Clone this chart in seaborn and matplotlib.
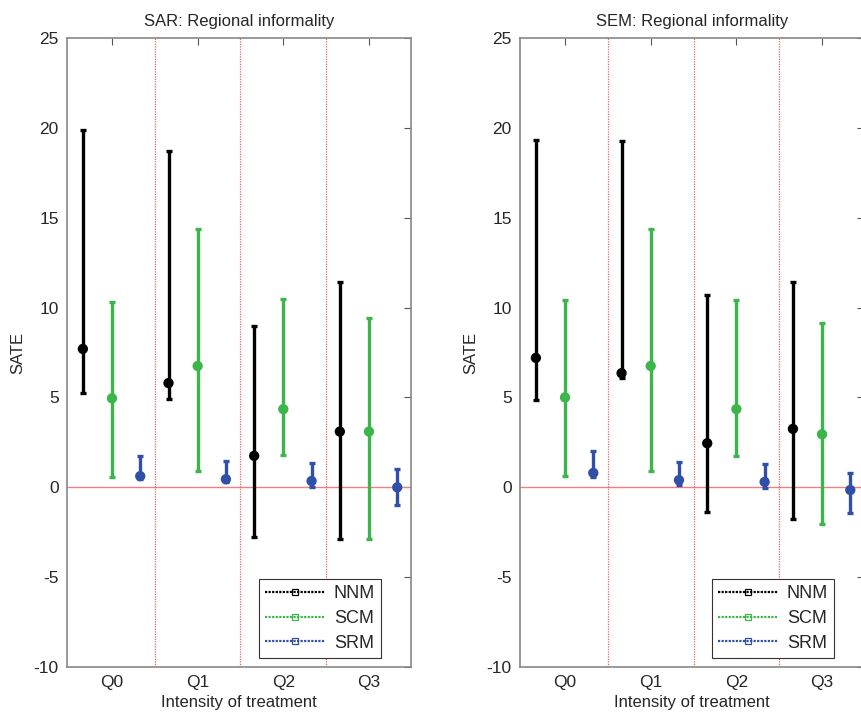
import numpy as np
import pandas as pd
import matplotlib
matplotlib.use("Agg")
import matplotlib.pyplot as plt
from matplotlib.lines import Line2D
import seaborn as sns

categories = ["Q0", "Q1", "Q2", "Q3"]
methods = ["NNM", "SCM", "SRM"]

# SAR panel
sar_nnm = [7.7, 5.8, 1.75, 3.1]
sar_nnm_lo = [5.25, 4.9, -2.75, -2.9]
sar_nnm_hi = [19.9, 18.7, 9.0, 11.4]
sar_scm = [4.95, 6.75, 4.35, 3.1]
sar_scm_lo = [0.6, 0.9, 1.8, -2.9]
sar_scm_hi = [10.3, 14.35, 10.5, 9.4]
sar_srm = [0.62, 0.45, 0.35, 0.0]
sar_srm_lo = [0.45, 0.3, 0.0, -1.0]
sar_srm_hi = [1.72, 1.45, 1.35, 1.0]

# SEM panel
sem_nnm = [7.2, 6.35, 2.45, 3.25]
sem_nnm_lo = [4.85, 6.1, -1.4, -1.75]
sem_nnm_hi = [19.3, 19.25, 10.7, 11.45]
sem_scm = [5.0, 6.75, 4.35, 2.95]
sem_scm_lo = [0.65, 0.9, 1.75, -2.05]
sem_scm_hi = [10.4, 14.4, 10.4, 9.15]
sem_srm = [0.8, 0.4, 0.3, -0.15]
sem_srm_lo = [0.55, 0.1, -0.05, -1.45]
sem_srm_hi = [2.0, 1.4, 1.3, 0.8]

titles = ["SAR: Regional informality", "SEM: Regional informality"]
colors = {"NNM": "#000000", "SCM": "#3cb54a", "SRM": "#2f4fa8"}
offsets = {"NNM": -0.34, "SCM": 0.0, "SRM": 0.33}

panels = [
    {"NNM": (sar_nnm, sar_nnm_lo, sar_nnm_hi),
     "SCM": (sar_scm, sar_scm_lo, sar_scm_hi),
     "SRM": (sar_srm, sar_srm_lo, sar_srm_hi)},
    {"NNM": (sem_nnm, sem_nnm_lo, sem_nnm_hi),
     "SCM": (sem_scm, sem_scm_lo, sem_scm_hi),
     "SRM": (sem_srm, sem_srm_lo, sem_srm_hi)},
]

sns.set_style("white")
plt.rcParams['font.family'] = ['Liberation Sans', 'DejaVu Sans']
plt.rcParams['axes.unicode_minus'] = False

fig = plt.figure(figsize=(8.61, 7.2), dpi=100)
axes = [fig.add_axes([0.0778, 0.0736, 0.3995, 0.8736]),
        fig.add_axes([0.6040, 0.0736, 0.3995, 0.8736])]

for ax, panel, title in zip(axes, panels, titles):
    rows = []
    for m in methods:
        c, lo, hi = panel[m]
        for i, cat in enumerate(categories):
            rows.append({"method": m, "x": i + 1 + offsets[m],
                         "y": c[i], "lo": lo[i], "hi": hi[i]})
    df = pd.DataFrame(rows)
    ax.axhline(0, color="#f08080", lw=1.0, zorder=1)
    for xv in [1.5, 2.5, 3.5]:
        ax.axvline(xv, color="#f06060", lw=0.9, ls=(0, (1, 1)), zorder=1)
    for m in methods:
        sub = df[df.method == m]
        ax.errorbar(sub["x"], sub["y"],
                    yerr=[sub["y"] - sub["lo"], sub["hi"] - sub["y"]],
                    fmt="none", ecolor=colors[m], elinewidth=2.4,
                    capsize=2.5, capthick=2.4, zorder=3)
    sns.scatterplot(data=df, x="x", y="y", hue="method", palette=colors,
                    marker="o", s=55, edgecolor=None, linewidth=0,
                    legend=False, ax=ax, zorder=4)
    ax.set_xlim(0.475, 4.49)
    ax.set_ylim(-10, 25)
    ax.set_xticks([1, 2, 3, 4])
    ax.set_xticklabels(categories)
    ax.set_yticks(np.arange(-10, 26, 5))
    ax.tick_params(axis="both", direction="in", length=5, width=0.8,
                   color="#555555", labelsize=12.5, top=True, right=True,
                   pad=6)
    for sp in ax.spines.values():
        sp.set_color("#888888")
        sp.set_linewidth(1.2)
    ax.set_xlabel("Intensity of treatment", fontsize=12, labelpad=3)
    ax.set_ylabel("SATE", fontsize=12, labelpad=6)
    ax.set_title(title, fontsize=12, pad=9)
    handles = [Line2D([0], [0], color=colors[m], ls=(0, (1, 0.6)), lw=1.6,
                      marker="s", markersize=5, markerfacecolor="none",
                      markeredgecolor=colors[m], markeredgewidth=0.9)
               for m in methods]
    leg = ax.legend(handles, methods, loc="lower right", fontsize=13,
                    frameon=True, fancybox=False, framealpha=1,
                    edgecolor="#333333", handlelength=3.3,
                    borderaxespad=0.5, labelspacing=0.42,
                    handletextpad=0.5, borderpad=0.35,
                    bbox_to_anchor=(0.94, 0.0))
    leg.get_frame().set_linewidth(0.8)

fig.savefig("out.png", dpi=100)
